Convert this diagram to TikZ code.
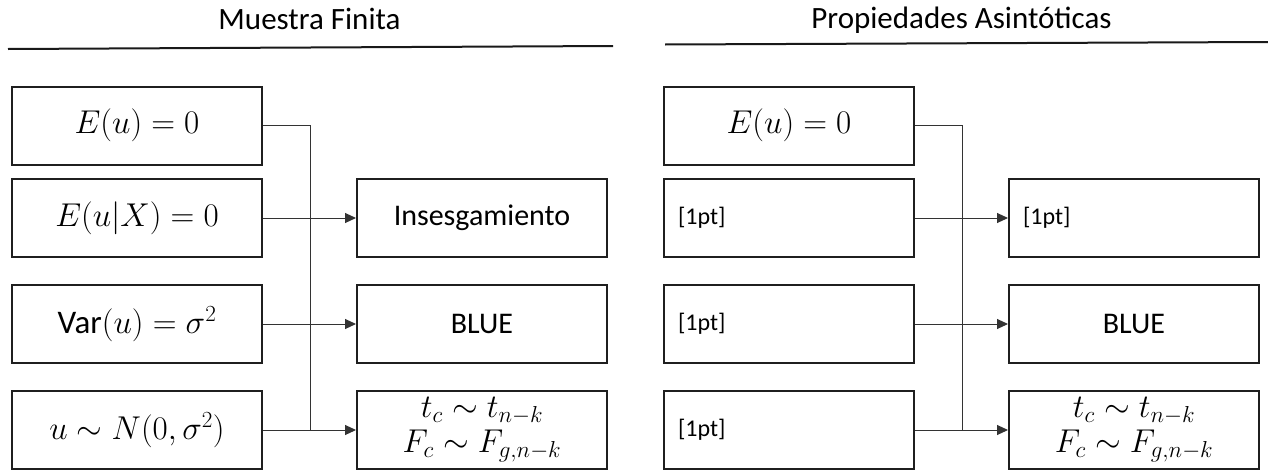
\RequirePackage{fix-cm}
\documentclass[tikz,border=0pt]{standalone}
\usepackage{amsmath}
\usepackage[no-math]{fontspec}
\setmainfont{Carlito}
\usetikzlibrary{arrows.meta}
\begin{document}
\begin{tikzpicture}[x=1pt,y=-1pt,
  box/.style={draw=black!88, line width=2pt, minimum width=250pt, minimum height=78pt, inner sep=0pt, font=\fontsize{30}{35}\selectfont},
  mbox/.style={box, font=\fontsize{33}{35}\selectfont},
  boxl/.style={box, inner xsep=14pt, text width=222pt, align=left, font=\fontsize{24}{28}\selectfont},
  two/.style={mbox, align=center},
  link/.style={draw=black!80, line width=1pt},
  arr/.style={link, -{Triangle[length=11pt,width=10pt]}},
  title/.style={font=\fontsize{31}{36}\selectfont, anchor=base, inner sep=0pt},
  rulel/.style={line width=2pt, draw=black!90}]
\useasboundingbox (0,0) rectangle (1268,474);

% ---------- left panel ----------
\node[title] (t1) at (309.5,29) {Muestra Finita};
\draw[rulel] (8,49) -- (613,46);

\node[mbox] (a1) at (137,125.5) {$E(u)=0$};
\node[mbox] (a2) at (137,218) {$E(u|X)=0$};
\node[mbox] (a3) at (137,324) {$\text{Var}(u)=\sigma^2$};
\node[mbox] (a4) at (137,430) {$u\sim N(0,\sigma^2)$};

\node[box] (b2) at (482,218) {Insesgamiento};
\node[box] (b3) at (482,324) {BLUE};
\node[two] (b4) at (482,430) {$t_c\sim t_{n-k}$\\$F_c\sim F_{g,n-k}$};

\coordinate (bus) at (310,0);
\draw[link] (a1.east) -| (bus |- a4.east);
\draw[arr] (a2.east) -- (b2.west);
\draw[arr] (a3.east) -- (b3.west);
\draw[arr] (a4.east) -- (b4.west);

% ---------- right panel ----------
\node[title] (t2) at (961.5,28) {Propiedades Asintóticas};
\draw[rulel] (665,44.5) -- (1268,42);

\node[mbox] (c1) at (789,125.5) {$E(u)=0$};
\node[boxl] (c2) at (789,218) {[1pt]};
\node[boxl] (c3) at (789,324) {[1pt]};
\node[boxl] (c4) at (789,430) {[1pt]};

\node[boxl] (d2) at (1134,218) {[1pt]};
\node[box] (d3) at (1134,324) {BLUE};
\node[two] (d4) at (1134,430) {$t_c\sim t_{n-k}$\\$F_c\sim F_{g,n-k}$};

\coordinate (bus2) at (962,0);
\draw[link] (c1.east) -| (bus2 |- c4.east);
\draw[arr] (c2.east) -- (d2.west);
\draw[arr] (c3.east) -- (d3.west);
\draw[arr] (c4.east) -- (d4.west);
\end{tikzpicture}
\end{document}
